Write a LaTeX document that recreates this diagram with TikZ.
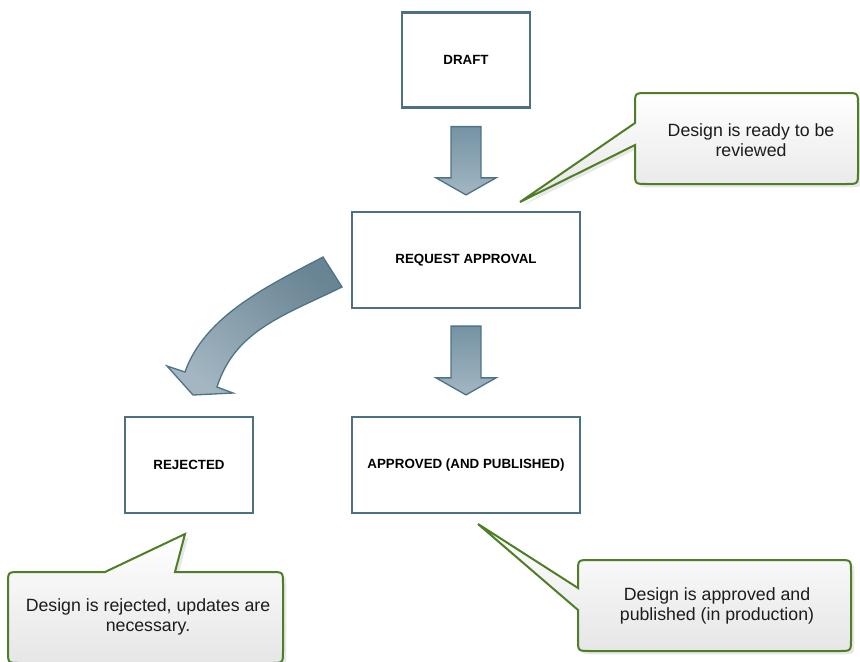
\documentclass[tikz,border=0pt]{standalone}
\usepackage{fontspec}
\setmainfont{Liberation Sans}
\usetikzlibrary{calc}
\definecolor{boxline}{HTML}{4D7083}
\definecolor{arrowline}{HTML}{4F7486}
\definecolor{arrowdark}{HTML}{7593A4}
\definecolor{arrowlight}{HTML}{A3B6C2}
\definecolor{callline}{HTML}{4E7E25}
\definecolor{callbot}{HTML}{E6E6E6}
\definecolor{calltext}{HTML}{1C1C1C}
\begin{document}
\begin{tikzpicture}[x=0.75pt,y=-0.75pt,
  box/.style={draw=boxline, line width=1.7pt, fill=white, font=\fontsize{10}{12}\selectfont\bfseries, inner sep=0pt},
  blockarrow/.style={draw=arrowline, line width=1pt, top color=arrowdark, bottom color=arrowlight, line join=miter},
  callout/.style={draw=callline, line width=1.5pt, top color=white, bottom color=callbot,
    preaction={fill=black!30, opacity=0.3, transform canvas={xshift=2.5pt,yshift=-2.5pt}}},
  calltext/.style={font=\fontsize{13.3}{15}\selectfont, text=calltext, align=center, inner sep=0pt}]
\clip (0,0) rectangle (860,661);

% boxes
\node[box, minimum width=96pt, minimum height=71.25pt] (draft) at (466,60) {DRAFT};
\node[box, minimum width=171pt, minimum height=72pt] (req) at (466,260) {REQUEST APPROVAL};
\node[box, minimum width=96pt, minimum height=72pt] (rej) at (189,465) {REJECTED};
\node[box, minimum width=171pt, minimum height=72pt] (appr) at (466,465) {APPROVED (AND PUBLISHED)};

% straight block arrows
\path[blockarrow] ($(draft.south)+(-15,18)$) -- ($(draft.south)+(15,18)$) -- ($(req.north)+(15,-33)$) -- ($(req.north)+(30,-33)$) -- ($(req.north)+(0,-16)$) -- ($(req.north)+(-30,-33)$) -- ($(req.north)+(-15,-33)$) -- cycle;
\path[blockarrow] ($(req.south)+(-15,17)$) -- ($(req.south)+(15,17)$) -- ($(appr.north)+(15,-38)$) -- ($(appr.north)+(30,-38)$) -- ($(appr.north)+(0,-21)$) -- ($(appr.north)+(-30,-38)$) -- ($(appr.north)+(-15,-38)$) -- cycle;

% curved block arrow
\path[blockarrow, top color=arrowdark!90!black, shading angle=-40] (323,257) .. controls (270,285) and (205,315) .. (185,372) -- (167,366) -- (193,395) -- (233,393) -- (217,387) .. controls (235,330) and (285,315) .. (342,287) -- cycle;

% callouts
\path[callout] (635,123) -- (520,202) -- (635,145) -- (635,172) .. controls (635,184) .. (647,184) -- (846,184) .. controls (858,184) .. (858,172) -- (858,105) .. controls (858,93) .. (846,93) -- (647,93) .. controls (635,93) .. (635,105) -- cycle;
\path[callout] (105,572) -- (185,534) -- (175,572) -- (271,572) .. controls (283,572) .. (283,584) -- (283,651) .. controls (283,663) .. (271,663) -- (20,663) .. controls (8,663) .. (8,651) -- (8,584) .. controls (8,572) .. (20,572) -- cycle;
\path[callout] (578,588) -- (478,524) -- (578,610) -- (578,639) .. controls (578,651) .. (590,651) -- (839,651) .. controls (851,651) .. (851,639) -- (851,572) .. controls (851,560) .. (839,560) -- (590,560) .. controls (578,560) .. (578,572) -- cycle;

\node[calltext] (ntr) at (751,140) {Design is ready to be\\reviewed};
\node[calltext] (nbl) at (148,617) {Design is rejected, updates are\\necessary.};
\node[calltext] (nbr) at (717,606) {Design is approved and\\published (in production)};
\end{tikzpicture}
\end{document}
